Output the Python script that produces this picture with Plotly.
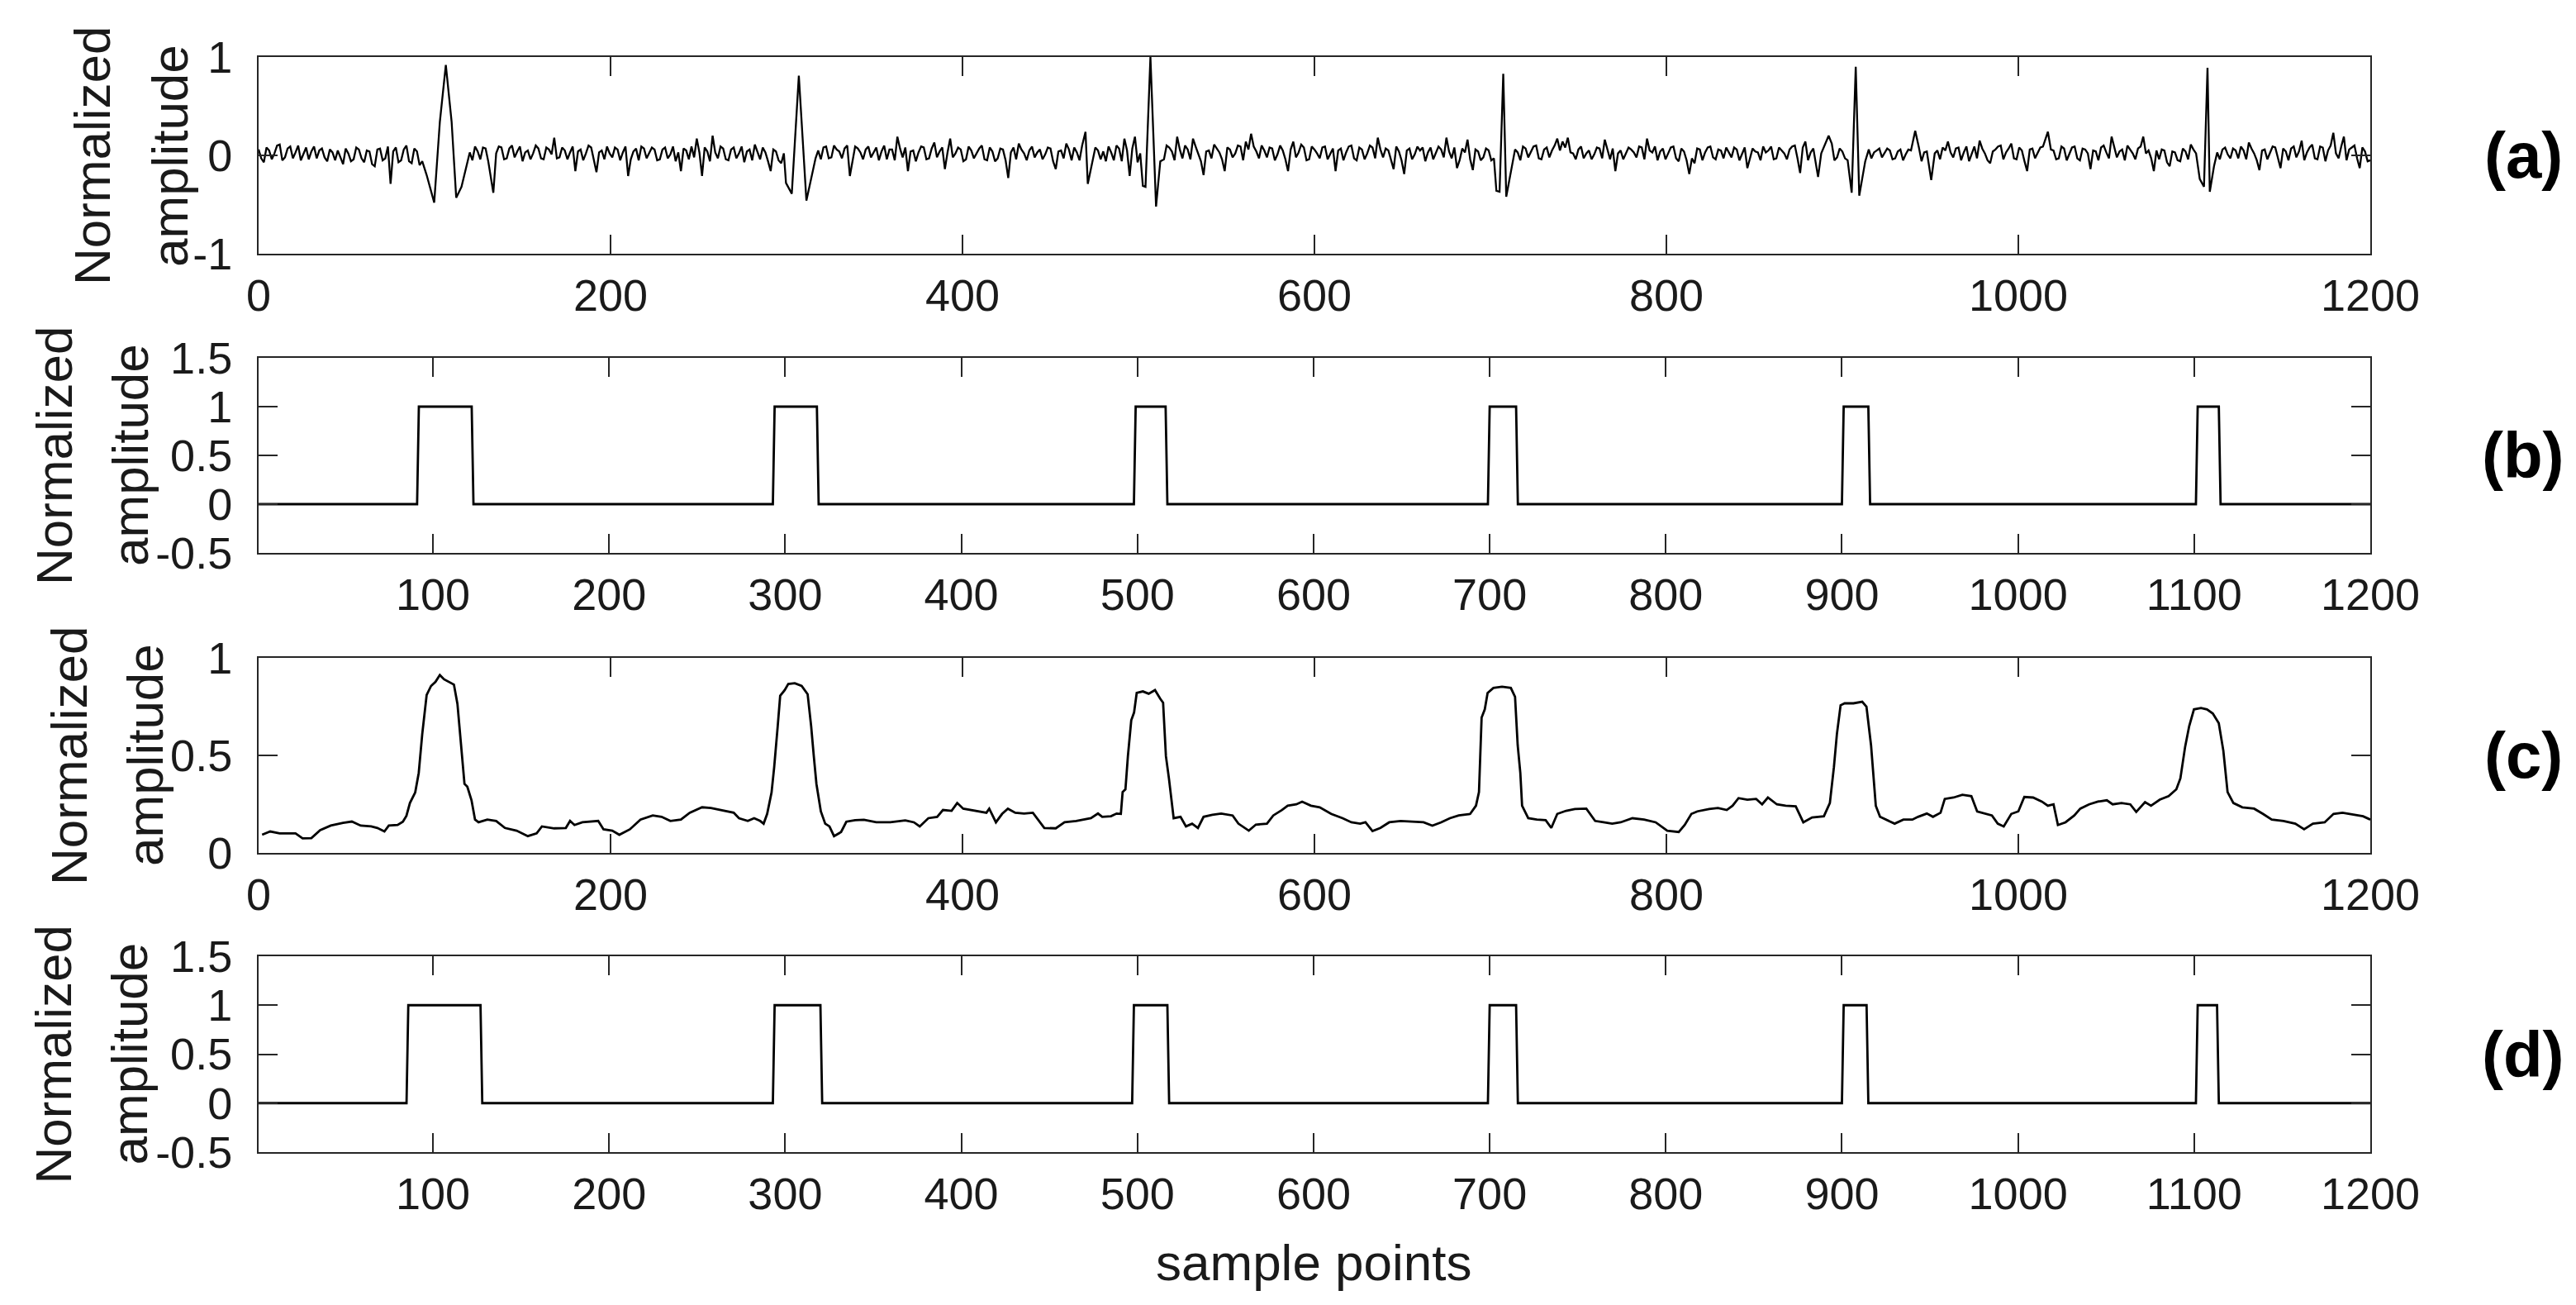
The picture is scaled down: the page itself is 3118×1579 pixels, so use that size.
import plotly.graph_objects as go

##### Data #####

# (a) raw signal: background noise read every 3 samples (0, 3, ..., 1200)
noise_step = 3
noise_a = [
    0.06, -0.07, 0.05, 0.02, 0.11, -0.02, 0.09, 0.03, -0.05, 0.08, 0.04, -0.03, 0.07, -0.06, 0.03, 0.05, -0.09, 0.02, -0.04, 0.06,
    -0.07, 0.04, -0.11, 0.07, -0.03, -0.29, 0.08, -0.05, 0.10, -0.08, 0.04, -0.06, 0, 0, 0, 0, 0, 0, 0, 0,
    0.03, 0.09, -0.04, 0.07, -0.02, 0.02, 0.08, -0.03, 0.10, 0.04, -0.06, 0.05, 0.02, 0.07, -0.04, 0.06, 0.18, -0.02, 0.05, 0.03,
    -0.16, 0.06, 0.02, 0.08, -0.17, 0.05, 0.09, -0.02, 0.06, 0.03, -0.21, 0.04, -0.05, 0.07, 0.02, 0.06, -0.04, 0.08, 0.01, -0.06,
    -0.16, 0.05, 0.09, 0.17, -0.21, 0.04, 0.20, -0.03, 0.07, -0.05, 0.08, 0.02, -0.07, 0.06, 0.11, -0.04, 0.03, -0.16, 0.04, -0.08,
    0, 0, 0, 0, 0, 0, 0.05, 0.08, -0.03, 0.10, 0.04, 0.07, -0.21, 0.09, 0.03, 0.06, -0.02, 0.08, 0.04, -0.04,
    0.06, 0.19, -0.02, -0.16, 0.05, 0.03, 0.08, -0.03, 0.13, 0.04, -0.14, 0.17, 0.02, 0.06, -0.04, 0.05, 0.02, 0.10, -0.05, 0.04,
    -0.03, 0.06, -0.23, 0.08, 0.12, 0.02, 0.05, -0.02, 0.06, 0.01, 0.07, -0.14, 0.05, 0.12, -0.05, 0.03, 0.10, 0, -0.06, 0.05,
    0.04, 0.09, -0.05, 0.07, 0.17, -0.21, 0.19, 0.02, 0, 0, 0, 0, 0.10, 0.04, 0.19, -0.03, 0.06, 0.17, 0.02, -0.20,
    0.05, 0.11, 0.03, -0.16, 0.06, 0.02, 0.09, 0.14, 0.22, 0.04, 0.10, -0.02, 0.07, 0.01, 0.05, -0.16, 0.14, 0.03, 0.08, -0.04,
    0.06, -0.03, 0.09, 0.02, -0.16, 0.07, 0.03, 0.10, -0.05, 0.06, 0.02, 0.08, 0.18, -0.02, 0.05, -0.14, 0.04, -0.19, 0.07, 0.01,
    0.05, -0.06, 0.08, 0.02, 0.06, 0.18, -0.03, -0.13, 0.07, 0.16, -0.15, 0.04, -0.02, 0.05, -0.03, 0, 0, 0, 0.06, -0.05,
    0.07, 0.03, 0.10, -0.04, 0.08, 0.05, 0.17, 0.14, 0.18, 0.02, 0.06, -0.03, 0.05, 0.01, 0.07, 0.16, -0.04, -0.16, 0.05, 0.02,
    0.06, -0.02, 0.08, 0.17, 0.03, -0.05, 0.07, 0.02, 0.09, -0.06, 0.04, -0.19, -0.08, 0.06, 0.03, 0.09, -0.04, 0.05, 0.08, -0.02,
    0.06, 0.01, -0.13, 0.07, 0.03, 0.09, 0.05, -0.04, 0.08, 0.02, 0.06, 0.10, -0.18, 0.14, 0.03, -0.04, 0.02, 0.05, 0.12, -0.02,
    0.04, 0, 0, 0, 0, 0.06, 0.03, 0.07, 0.02, 0.05, -0.03, 0.06, 0.01, 0.05, 0.02, -0.06, 0.04, -0.06, 0.05, 0.08,
    0.14, -0.02, 0.08, 0.03, -0.06, 0.09, 0.15, 0.02, -0.08, 0.06, 0.10, 0.03, 0.12, -0.04, 0.05, -0.16, 0.07, 0.02, 0.09, 0.0,
    0.05, -0.03, 0.07, 0.02, 0.09, -0.05, 0.06, -0.14, 0.04, 0.08, 0.03, 0.19, -0.02, 0.06, 0.10, 0.02, 0.07, 0.19, 0.05, -0.16,
    -0.04, 0.05, -0.11, 0.03, -0.06, 0.04, 0.11, 0.02, 0, 0, 0, 0.03, 0.06, 0.01, 0.07, -0.03, 0.05, 0.13, 0.02, -0.15,
    0.06, 0.02, 0.08, -0.13, 0.04, 0.07, -0.02, 0.15, 0.03, 0.11, -0.04, 0.08, 0.05, 0.23, -0.03, 0.19, 0.06, 0.10, -0.13, 0.04,
    -0.05,
]

# (a) background noise read in between, at samples 1.5, 4.5, ..., 1198.5
noise_a_mid = [
    -0.03, 0.08, -0.04, 0.10, -0.05, 0.07, -0.03, 0.10, 0.02, -0.04, 0.09, 0.05, -0.02, 0.06, -0.05, -0.02, 0.07, -0.06, 0.08, -0.03,
    0.05, -0.09, 0.06, -0.05, 0.09, 0.04, -0.07, 0.06, -0.06, 0.07, -0.10, 0, 0, 0, 0, 0, 0, 0, 0, 0,
    -0.05, 0.04, 0.08, -0.06, 0.06, 0.09, -0.04, 0.07, -0.02, 0.09, 0.03, -0.04, 0.10, -0.03, 0.08, 0.01, -0.03, 0.08, -0.04, 0.09,
    0.04, -0.05, 0.10, -0.06, 0.03, -0.04, 0.02, 0.08, -0.05, 0.09, -0.04, 0.07, 0.09, -0.03, 0.08, -0.05, 0.06, -0.03, 0.09, 0.03,
    0.07, -0.04, -0.02, 0.03, 0.08, -0.06, 0.03, 0.09, -0.04, 0.06, -0.03, 0.09, 0.04, -0.05, 0.03, 0.08, -0.06, 0.06, -0.05, 0.02,
    0, 0, 0, 0, 0, -0.03, -0.04, 0.09, -0.02, 0.06, -0.03, 0.10, -0.05, 0.07, -0.04, 0.09, 0.03, -0.05, 0.10, 0.06,
    -0.05, 0.07, 0.08, 0.04, -0.06, 0.09, -0.04, 0.07, -0.02, 0.08, 0.03, -0.02, 0.08, -0.06, 0.09, -0.03, 0.07, -0.04, 0.08, -0.06,
    0.07, -0.05, 0.03, -0.04, 0.06, -0.05, 0.09, 0.03, -0.04, 0.08, -0.06, 0.04, -0.03, 0.06, 0.08, -0.05, 0.05, -0.05, 0.08, -0.04,
    -0.06, 0.03, 0.10, -0.06, 0.05, 0.07, -0.07, 0, 0, 0, 0, -0.04, 0.08, -0.05, 0.06, 0.10, -0.04, 0.09, -0.06, 0.04,
    -0.03, 0.07, -0.04, 0.08, -0.02, 0.10, -0.05, 0.06, 0.09, -0.03, 0.05, 0.08, -0.05, 0.10, -0.04, 0.06, -0.02, 0.11, -0.05, 0.09,
    0.02, 0.08, -0.04, 0.07, 0.05, -0.05, 0.09, -0.03, 0.08, -0.04, 0.10, -0.03, 0.06, 0.07, -0.04, 0.09, -0.05, 0.05, -0.04, 0.09,
    0.08, 0.03, -0.04, 0.09, -0.02, 0.04, 0.08, -0.05, 0.03, -0.04, 0.06, -0.05, 0.07, -0.05, 0, 0, 0, 0, 0.03, 0.09,
    -0.02, 0.09, -0.03, 0.06, -0.02, 0.10, 0.05, 0.08, 0.03, -0.04, 0.09, 0.02, -0.04, 0.08, -0.03, 0.05, 0.07, 0.02, -0.04, 0.08,
    0.03, 0.09, -0.04, 0.05, 0.09, 0.04, -0.04, 0.08, -0.03, 0.07, -0.05, -0.03, 0.07, -0.05, 0.08, -0.02, 0.06, -0.03, 0.03, 0.08,
    -0.05, 0.08, -0.02, 0.04, -0.05, 0.03, 0.09, -0.03, 0.05, -0.04, 0.09, -0.03, 0.08, -0.05, 0.07, 0.0, 0.08, 0.03, -0.05, 0.07,
    -0.03, 0, 0, 0, 0, -0.03, 0.05, -0.02, 0.07, -0.04, 0.04, -0.05, 0.06, -0.02, 0.08, 0.03, -0.03, 0.02, -0.04, 0.05,
    0.03, 0.07, -0.05, 0.09, 0.02, -0.03, 0.07, -0.05, 0.04, 0.09, -0.04, 0.07, -0.03, 0.08, -0.06, 0.06, -0.03, 0.08, -0.05, 0.06,
    -0.04, 0.09, -0.05, 0.08, -0.03, 0.07, 0.02, 0.05, -0.05, 0.10, -0.03, 0.08, 0.04, -0.05, 0.06, -0.04, 0.09, 0.02, -0.03, 0.05,
    0.06, -0.07, 0.04, -0.05, 0.07, -0.04, 0.06, 0, 0, 0, 0, -0.04, 0.08, -0.03, 0.05, 0.09, -0.04, 0.07, -0.05, 0.05,
    -0.04, 0.09, -0.03, 0.07, -0.05, 0.09, 0.04, -0.05, 0.08, -0.03, 0.09, -0.06, 0.10, 0.02, 0.09, -0.05, 0.08, -0.03, 0.08, -0.06,
]

# (a) spike groups (sample, amplitude)
spikes_a = [
    [(95.5, -0.20), (99.8, -0.48), (103.0, 0.34), (106.4, 0.92), (109.7, 0.34), (112.3, -0.43), (115.3, -0.32), (118.6, -0.06)],
    [(299.7, -0.28), (303.0, -0.39), (307.0, 0.81), (311.3, -0.46), (315.0, -0.17)],
    [(502.5, -0.31), (504.0, -0.32), (506.8, 1.00), (510.0, -0.52), (512.4, -0.06)],
    [(703.4, -0.36), (705.2, -0.37), (707.3, 0.83), (709.0, -0.42), (711.6, -0.17)],
    [(903.0, -0.05), (905.3, -0.38), (907.6, 0.90), (909.6, -0.41), (913.0, -0.06)],
    [(1103.1, -0.24), (1105.5, -0.32), (1107.5, 0.89), (1108.8, -0.37), (1111.2, -0.11)],
]

# (a) isolated blips
blips_a = [(133.4, -0.38), (469.9, 0.24), (471.2, -0.29), (886.2, -0.22), (892.2, 0.20),
           (941.4, 0.25), (950.5, -0.25), (1016.8, 0.24)]

# (b) and (d) pulse (first, last) sample that sits at 1
pulses_b = [(92, 122), (294, 318), (499, 516), (700, 715), (901, 915), (1102, 1114)]
pulses_d = [(86, 127), (294, 320), (498, 517), (700, 715), (901, 914), (1102, 1113)]

# (c) smoothed envelope
c_x = [2, 6.6, 12, 21, 25, 30, 35, 41, 48, 53, 58, 64, 67.5, 71.5, 74, 79, 82, 84, 86, 89,
       91, 93, 95.5, 98, 100.5, 103, 105.4, 108.7, 111, 113, 114.6, 117, 118.6, 121, 123, 125, 130, 135, 140, 146.6,
       153, 158, 161, 168, 174.6, 177, 179.5, 184, 193, 196, 201, 205, 211, 217, 224, 229, 234, 240, 245, 252,
       257, 262, 267, 270, 273, 278, 281.6, 285, 287, 289, 291.5, 293, 295, 296.4, 299, 301, 304.7, 308.6, 312, 314,
       315.5, 317, 319.5, 322, 324.4, 327, 331, 334, 339, 344, 351, 359, 367.5, 372.4, 375.7, 380.6, 385.6, 388.9, 393.8, 397,
       400.4, 407, 413.6, 415.2, 419, 422.5, 425.8, 430, 435, 440, 443, 446.5, 453, 458, 464.6, 473, 477, 479.4, 484.4, 487.6,
       490, 491, 492.6, 494, 495.9, 497.5, 499, 502.5, 505.8, 509.4, 512.4, 514, 515.6, 517.3, 520, 523.9, 527, 530.5, 533.8, 537,
       542, 547, 553.5, 556.8, 562.7, 566.7, 573, 576.6, 581.5, 584.8, 589.7, 593, 598, 603, 609.5, 616, 621, 626, 629, 633,
       637.5, 642.5, 649, 655.6, 662, 667, 672, 677, 682, 688.5, 691.8, 693.5, 695, 696.8, 698.4, 701.7, 706.6, 711.6, 714, 715.5,
       717, 718, 721.5, 726.4, 731.4, 734.6, 738, 743, 748, 754.5, 759.5, 764.3, 769.2, 774, 780.7, 787.3, 793.9, 800.5, 807, 810.4,
       814.2, 817.6, 824.3, 829.3, 834.3, 837.6, 841, 846, 851, 854.4, 857.7, 862.8, 867.8, 873.5, 877.8, 882.8, 889.5, 892.9, 895.2, 896.9,
       899, 901.3, 906.3, 911.3, 913.7, 916.3, 919, 921.4, 926.4, 929.7, 934.7, 939.8, 943, 948, 951.5, 955.8, 958.2, 963.2, 968.2, 973.3,
       976.6, 981.6, 985, 988.3, 991.7, 996, 1000, 1003.4, 1008.4, 1013.4, 1016.8, 1020, 1022.5, 1026.8, 1031.8, 1035.2, 1040.2, 1045.2, 1050.3, 1053.6,
       1058.6, 1063.6, 1067, 1072, 1075.4, 1080.4, 1085.4, 1089.8, 1092.1, 1094.8, 1097.1, 1099.8, 1103.8, 1107.2, 1110.5, 1113.9, 1116.5, 1118.9, 1122.2, 1127.3,
       1134, 1139, 1144, 1150.7, 1157.4, 1162.4, 1167.4, 1174.1, 1179.1, 1184.2, 1190.9, 1195.9, 1200]
c_y = [0.093, 0.11, 0.10, 0.10, 0.075, 0.076, 0.117, 0.14, 0.154, 0.161, 0.14, 0.136, 0.128, 0.11, 0.14, 0.143, 0.16, 0.19, 0.256, 0.31,
       0.41, 0.61, 0.81, 0.856, 0.877, 0.912, 0.89, 0.873, 0.863, 0.764, 0.61, 0.354, 0.34, 0.27, 0.171, 0.157, 0.171, 0.164, 0.128, 0.114,
       0.086, 0.10, 0.136, 0.126, 0.128, 0.164, 0.143, 0.157, 0.164, 0.121, 0.114, 0.093, 0.121, 0.171, 0.192, 0.185, 0.164, 0.171, 0.206, 0.234,
       0.23, 0.22, 0.213, 0.206, 0.178, 0.164, 0.178, 0.164, 0.15, 0.20, 0.31, 0.44, 0.65, 0.806, 0.835, 0.866, 0.87, 0.856, 0.814, 0.65,
       0.496, 0.354, 0.213, 0.15, 0.136, 0.086, 0.107, 0.160, 0.168, 0.170, 0.157, 0.157, 0.167, 0.157, 0.136, 0.178, 0.185, 0.22, 0.216, 0.256,
       0.227, 0.216, 0.206, 0.227, 0.157, 0.20, 0.227, 0.206, 0.202, 0.206, 0.171, 0.128, 0.126, 0.157, 0.164, 0.178, 0.202, 0.185, 0.188, 0.202,
       0.20, 0.312, 0.326, 0.496, 0.68, 0.72, 0.82, 0.828, 0.816, 0.835, 0.79, 0.77, 0.496, 0.383, 0.178, 0.185, 0.136, 0.15, 0.128, 0.185,
       0.195, 0.202, 0.192, 0.15, 0.114, 0.145, 0.15, 0.192, 0.22, 0.242, 0.249, 0.263, 0.242, 0.234, 0.20, 0.178, 0.157, 0.15, 0.157, 0.112,
       0.128, 0.157, 0.164, 0.161, 0.157, 0.14, 0.157, 0.178, 0.192, 0.20, 0.242, 0.312, 0.694, 0.736, 0.82, 0.846, 0.852, 0.846, 0.80, 0.552,
       0.41, 0.242, 0.178, 0.171, 0.168, 0.128, 0.20, 0.216, 0.225, 0.227, 0.164, 0.157, 0.15, 0.157, 0.178, 0.171, 0.157, 0.114, 0.107, 0.143,
       0.20, 0.213, 0.225, 0.23, 0.22, 0.242, 0.281, 0.273, 0.277, 0.249, 0.284, 0.249, 0.242, 0.239, 0.157, 0.182, 0.188, 0.256, 0.44, 0.61,
       0.757, 0.767, 0.767, 0.775, 0.75, 0.552, 0.242, 0.185, 0.164, 0.15, 0.171, 0.171, 0.185, 0.202, 0.185, 0.206, 0.277, 0.284, 0.298, 0.291,
       0.213, 0.20, 0.192, 0.15, 0.136, 0.20, 0.213, 0.287, 0.284, 0.263, 0.242, 0.249, 0.143, 0.157, 0.192, 0.227, 0.249, 0.263, 0.27, 0.249,
       0.256, 0.249, 0.21, 0.26, 0.242, 0.273, 0.291, 0.326, 0.383, 0.545, 0.65, 0.736, 0.743, 0.736, 0.715, 0.665, 0.524, 0.312, 0.256, 0.234,
       0.227, 0.20, 0.171, 0.164, 0.15, 0.121, 0.15, 0.157, 0.20, 0.206, 0.196, 0.188, 0.171]

y_ticks_a = [-1, 0, 1]
y_ticks_b = [-0.5, 0, 0.5, 1, 1.5]
y_ticks_c = [0, 0.5, 1]
y_labels_a = ["-1", "0", "1"]
y_labels_b = ["-0.5", "0", "0.5", "1", "1.5"]
y_labels_c = ["0", "0.5", "1"]
x_ticks_ac = [0, 200, 400, 600, 800, 1000, 1200]
x_ticks_bd = [100, 200, 300, 400, 500, 600, 700, 800, 900, 1000, 1100, 1200]
panel_tags = ["(a)", "(b)", "(c)", "(d)"]


##### Build traces #####

def raw_trace():
    windows = [(g[0][0] - 1, g[-1][0] + 1) for g in spikes_a]
    samples = [(i * noise_step, v) for i, v in enumerate(noise_a)]
    samples += [(i * noise_step + 1.5, v) for i, v in enumerate(noise_a_mid)]
    pts = []
    for s, v in samples:
        if any(lo <= s <= hi for lo, hi in windows):
            continue
        if any(abs(s - b[0]) < 1.5 for b in blips_a):
            continue
        pts.append((s, v))
    for g in spikes_a:
        pts.extend(g)
    pts.extend(blips_a)
    pts.sort()
    return [p[0] for p in pts], [p[1] for p in pts]


def pulse_trace(pulses):
    xs, ys = [1], [0]
    for on, off in pulses:
        xs += [on - 1, on, off, off + 1]
        ys += [0, 1, 1, 0]
    xs.append(1200)
    ys.append(0)
    return xs, ys


W, H = 3118, 1579
FONT = "Liberation Sans, Arial, Helvetica, sans-serif"
AX = "#262626"

# plot boxes in pixels: left, right, top, bottom
x_left, x_right = 305, 2861
boxes = [(61, 299), (425, 661), (788, 1024), (1149, 1386)]

fig = go.Figure()

ax_, ay_ = raw_trace()
bx_, by_ = pulse_trace(pulses_b)
dx_, dy_ = pulse_trace(pulses_d)
series = [(ax_, ay_, 2.3), (bx_, by_, 2.8), (c_x, c_y, 2.8), (dx_, dy_, 2.8)]

for k, (xs, ys, lw) in enumerate(series):
    n = "" if k == 0 else str(k + 1)
    fig.add_trace(go.Scatter(x=xs, y=ys, mode="lines", line=dict(color="black", width=lw),
                             xaxis="x" + n, yaxis="y" + n, showlegend=False, hoverinfo="skip"))

axis_style = dict(
    showline=True, linecolor=AX, linewidth=2, mirror="ticks",
    ticks="inside", ticklen=23, tickwidth=1.5, tickcolor=AX,
    showgrid=False, zeroline=False, automargin=False,
    tickfont=dict(family=FONT, size=54, color="#1a1a1a"),
)

x_ranges = [[0, 1200], [1, 1200], [0, 1200], [1, 1200]]
x_ticks = [x_ticks_ac, x_ticks_bd, x_ticks_ac, x_ticks_bd]
y_ranges = [[-1, 1], [-0.5, 1.5], [0, 1], [-0.5, 1.5]]
y_ticks = [y_ticks_a, y_ticks_b, y_ticks_c, y_ticks_b]
y_labels = [y_labels_a, y_labels_b, y_labels_c, y_labels_b]

layout = {}
annotations = []
for k in range(4):
    n = "" if k == 0 else str(k + 1)
    top, bot = boxes[k]
    layout["xaxis" + n] = dict(axis_style, domain=[x_left / W, x_right / W], range=x_ranges[k],
                               tickvals=x_ticks[k], anchor="y" + n, ticklabelstandoff=2)
    layout["yaxis" + n] = dict(axis_style, domain=[1 - bot / H, 1 - top / H], range=y_ranges[k],
                               tickvals=y_ticks[k], ticktext=y_labels[k], anchor="x" + n,
                               ticklabelstandoff=19)

    yc = 1 - (top + bot) / 2 / H
    annotations.append(dict(text="<b>" + panel_tags[k] + "</b>", x=3046 / W, y=yc, xref="paper", yref="paper",
                            showarrow=False, xanchor="center", yanchor="middle",
                            font=dict(family=FONT, size=78, color="black")))

# y-axis labels, two lines each (x centers of the two lines per panel)
ylab_x = [(103, 197), (58, 150), (75, 167), (56, 148)]
for k in range(4):
    top, bot = boxes[k]
    yc = 1 - (top + bot) / 2 / H
    for word, px in zip(["Normalized", "amplitude"], ylab_x[k]):
        annotations.append(dict(text=word, x=px / W, y=yc, xref="paper", yref="paper", textangle=-90,
                                showarrow=False, xanchor="center", yanchor="middle",
                                font=dict(family=FONT, size=62, color="#1a1a1a")))

annotations.append(dict(text="sample points", x=(x_left + x_right) / 2 / W, y=1 - 1519 / H,
                        xref="paper", yref="paper", showarrow=False, xanchor="center", yanchor="middle",
                        font=dict(family=FONT, size=62, color="#1a1a1a")))

fig.update_layout(
    width=W, height=H,
    margin=dict(l=0, r=0, t=0, b=0),
    paper_bgcolor="white", plot_bgcolor="white",
    annotations=annotations,
    **layout,
)

fig.write_html("out.html")
